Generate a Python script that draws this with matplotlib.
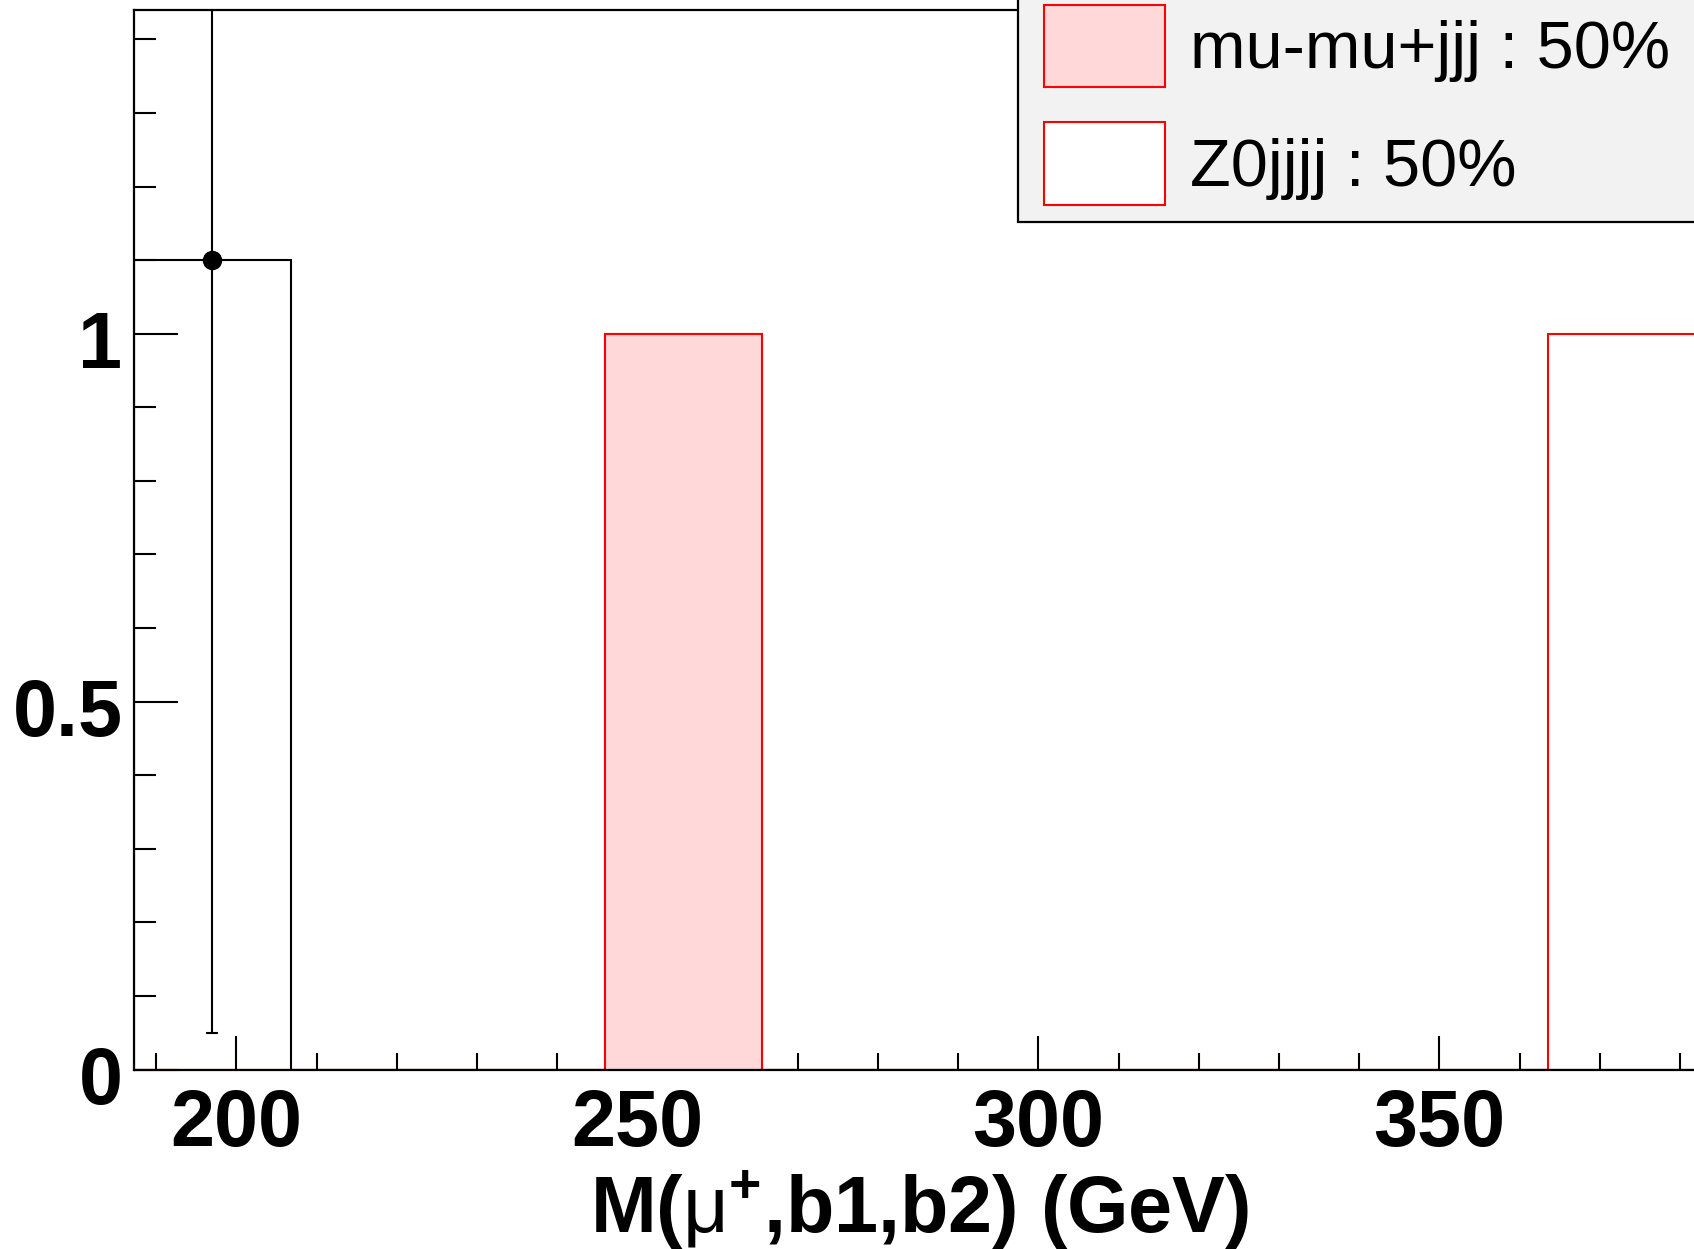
import numpy as np
import matplotlib
matplotlib.use("Agg")
import matplotlib.pyplot as plt
from matplotlib.patches import Rectangle
import matplotlib.transforms as mtransforms
from matplotlib.ticker import FixedLocator, MultipleLocator

# ---------------- data ----------------
bin_edges = [187.2, 206.8, 226.4, 246.0, 265.6, 285.2, 304.8, 324.4, 344.0, 363.6, 383.2]
data_counts = [1.1, 0, 0, 0, 0, 0, 0, 0, 0, 0]
data_err_low = [1.05, 0, 0, 0, 0, 0, 0, 0, 0, 0]
data_err_high = [1.05, 0, 0, 0, 0, 0, 0, 0, 0, 0]
mumu_counts = [0, 0, 0, 1, 0, 0, 0, 0, 0, 0]
z0_counts = [0, 0, 0, 0, 0, 0, 0, 0, 0, 1]
legend_labels = ["mu-mu+jjj : 50%", "Z0jjjj : 50%"]
xtick_values = [200, 250, 300, 350]
xtick_labels = ["200", "250", "300", "350"]
ytick_values = [0, 0.5, 1]
ytick_labels = ["0", "0.5", "1"]
x_title = r"M($\mathsf{\mu}^{\mathbf{+}}$,b1,b2) (GeV)"
y_max = 1.44

# ---------------- style ----------------
plt.rcParams["font.family"] = ["Liberation Sans", "DejaVu Sans"]
plt.rcParams["mathtext.fontset"] = "custom"
plt.rcParams["mathtext.rm"] = "Liberation Sans:bold"
plt.rcParams["mathtext.bf"] = "Liberation Sans:bold"
plt.rcParams["mathtext.sf"] = "Liberation Sans"
plt.rcParams["mathtext.it"] = "Liberation Sans:italic"

W, H, DPI = 1694, 1249, 100
fig = plt.figure(figsize=(W / DPI, H / DPI), dpi=DPI, facecolor="white")

ax_left_px, ax_right_px = 133.7, 1705.6
ax_top_px, ax_bot_px = 10.0, 1069.5
ax = fig.add_axes([ax_left_px / W, 1 - ax_bot_px / H,
                   (ax_right_px - ax_left_px) / W, (ax_bot_px - ax_top_px) / H])

edges = np.array(bin_edges)
mumu = np.array(mumu_counts, dtype=float)
z0 = np.array(z0_counts, dtype=float)
data = np.array(data_counts, dtype=float)

red = "#ff0000"
pink = "#ffd9d9"
lw = 1.5

# stacked MC: total first (Z0 style), then mu-mu+jjj on top
ax.stairs(mumu + z0, edges, fill=True, facecolor="white", edgecolor="none", zorder=1)
ax.stairs(mumu + z0, edges, color=red, linewidth=lw, zorder=2)
ax.stairs(mumu, edges, fill=True, facecolor=pink, edgecolor="none", zorder=3)
ax.stairs(mumu, edges, color=red, linewidth=lw, zorder=4)

# data histogram outline
ax.stairs(data, edges, color="black", linewidth=lw, zorder=5)

# data points with error bars
centers = 0.5 * (edges[:-1] + edges[1:])
mask = data > 0
ax.errorbar(centers[mask], data[mask],
            yerr=[np.array(data_err_low)[mask], np.array(data_err_high)[mask]],
            fmt="o", color="black", markersize=13, elinewidth=lw,
            capsize=4, capthick=lw, zorder=6)

ax.set_xlim(edges[0], edges[-1])
ax.set_ylim(0, y_max)

# spines
for s in ["left", "bottom", "top", "right"]:
    ax.spines[s].set_linewidth(1.6)
    ax.spines[s].set_zorder(10)

# ticks
ax.xaxis.set_major_locator(FixedLocator(xtick_values))
ax.set_xticklabels(xtick_labels)
ax.xaxis.set_minor_locator(MultipleLocator(10))
ax.yaxis.set_major_locator(FixedLocator(ytick_values))
ax.set_yticklabels(ytick_labels)
ax.yaxis.set_minor_locator(MultipleLocator(0.1))

ax.tick_params(axis="both", which="both", direction="in", top=False, right=False,
               width=1.5, color="black")
ax.tick_params(axis="x", which="major", length=24.5, pad=13, labelsize=57)
ax.tick_params(axis="x", which="minor", length=12)
ax.tick_params(axis="y", which="major", length=32, pad=8, labelsize=57)
ax.tick_params(axis="y", which="minor", length=16)
for lab in ax.get_xticklabels() + ax.get_yticklabels():
    lab.set_fontweight("bold")
offset = mtransforms.ScaledTranslation(0, -0.055, fig.dpi_scale_trans)
for lab in ax.get_yticklabels():
    lab.set_transform(lab.get_transform() + offset)

ax.set_xlabel(x_title, fontsize=57, fontweight="bold", va="baseline", ha="center")
ax.xaxis.set_label_coords(0.5, -(1233 - ax_bot_px) / (ax_bot_px - ax_top_px))

# ---------------- legend (drawn in figure pixels) ----------------
def fx(px):
    return px / W

def fy(py):
    return 1 - py / H

leg_box = Rectangle((fx(1017.7), fy(221.5)), fx(W + 50) - fx(1017.7), fy(-50) - fy(221.5),
                    transform=fig.transFigure, facecolor="#f2f2f2", edgecolor="black",
                    linewidth=1.6, zorder=20)
fig.add_artist(leg_box)
sw_styles = [dict(facecolor=pink, edgecolor=red), dict(facecolor="white", edgecolor=red)]
sw_tops = [4.7, 122.0]
sw_bots = [87.3, 205.0]
baselines = [68.3, 186.0]
for lab, st, t, b, bl in zip(legend_labels, sw_styles, sw_tops, sw_bots, baselines):
    fig.add_artist(Rectangle((fx(1043.5), fy(b)), fx(1165) - fx(1043.5), fy(t) - fy(b),
                             transform=fig.transFigure, linewidth=1.5, zorder=21, **st))
    fig.text(fx(1190), fy(bl), lab, fontsize=48, va="baseline", ha="left", zorder=22)

fig.savefig("out.png", dpi=DPI)
